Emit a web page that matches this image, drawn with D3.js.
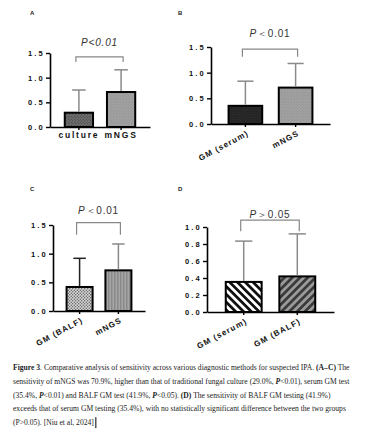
<!DOCTYPE html>
<html>
<head>
<meta charset="utf-8">
<script src="https://cdn.jsdelivr.net/npm/d3@7"></script>
<style>
  body { margin: 0; background: #fff; }
  svg { display: block; }
</style>
</head>
<body>
<svg id="chart" width="374" height="447"></svg>
<script>
// sensitivity values (from caption) and upper error bar ends
var catsA = ["culture", "mNGS"];
var meanA = [0.290, 0.709];
var sdA = [0.46, 0.45];

var catsB = ["GM (serum)", "mNGS"];
var meanB = [0.354, 0.709];
var sdB = [0.48, 0.47];

var catsC = ["GM (BALF)", "mNGS"];
var meanC = [0.419, 0.709];
var sdC = [0.50, 0.46];

var catsD = ["GM (serum)", "GM (BALF)"];
var meanD = [0.354, 0.419];
var sdD = [0.48, 0.50];

var ticks15 = [0, 0.5, 1.0, 1.5];
var ticks10 = [0, 0.2, 0.4, 0.6, 0.8, 1.0];

var captionLines = [
  [["b", "Figure 3"], ["", ". Comparative analysis of sensitivity across various diagnostic methods for suspected IPA. "], ["b", "(A\u2013C)"], ["", " The"]],
  [["", "sensitivity of mNGS was 70.9%, higher than that of traditional fungal culture (29.0%, "], ["bi", "P"], ["", "<0.01), serum GM test"]],
  [["", "(35.4%, "], ["bi", "P"], ["", "<0.01) and BALF GM test (41.9%, "], ["bi", "P"], ["", "<0.05). "], ["b", "(D)"], ["", " The sensitivity of BALF GM testing (41.9%)"]],
  [["", "exceeds that of serum GM testing (35.4%), with no statistically significant difference between the two groups"]],
  [["", "(P>0.05). [Niu et al, 2024]"]]
];

var svg = d3.select("#chart");
var defs = svg.append("defs");

// fill patterns
function stripes(id, bg, fg, w, angle) {
  var p = defs.append("pattern").attr("id", id).attr("patternUnits", "userSpaceOnUse")
    .attr("width", w).attr("height", w).attr("patternTransform", "rotate(" + angle + ")");
  p.append("rect").attr("width", w).attr("height", w).attr("fill", bg);
  p.append("rect").attr("width", w / 2).attr("height", w).attr("fill", fg);
}
function dots(id, bg, fg, w, r) {
  var p = defs.append("pattern").attr("id", id).attr("patternUnits", "userSpaceOnUse")
    .attr("width", w).attr("height", w);
  p.append("rect").attr("width", w).attr("height", w).attr("fill", bg);
  p.append("circle").attr("cx", w / 4).attr("cy", w / 4).attr("r", r).attr("fill", fg);
  p.append("circle").attr("cx", 3 * w / 4).attr("cy", 3 * w / 4).attr("r", r).attr("fill", fg);
}
dots("pCulture", "#6e6e6e", "#3a3a3a", 3, 0.6);
dots("pGray", "#a2a2a2", "#8a8a8a", 3, 0.5);
dots("pSerumB", "#1e1e1e", "#484848", 2.5, 0.5);
dots("pBalfC", "#d6d6d6", "#555", 3, 0.7);
stripes("pVert", "#a6a6a6", "#8a8a8a", 3, 0);
stripes("pSerumD", "#ffffff", "#111", 5.5, -45);
stripes("pBalfD", "#9a9a9a", "#3a3a3a", 5.5, 45);

var panels = [
  { letter: "A", lx: 30, ly: 15, cats: catsA, mean: meanA, sd: sdA, fills: ["url(#pCulture)", "url(#pGray)"],
    errCol: ["#8a8a8a", "#8a8a8a"], x0: 50, x1: 150, yZero: 127, yTop: 53, yMax: 1.5, ticks: ticks15,
    rotate: false, pText: "P<0.01", pAllItalic: true, pY: 1.72, brTop: 1.42, brBot: 1.32 },
  { letter: "B", lx: 178, ly: 15, cats: catsB, mean: meanB, sd: sdB, fills: ["url(#pSerumB)", "url(#pGray)"],
    errCol: ["#8a8a8a", "#8a8a8a"], x0: 211, x1: 330, yZero: 124, yTop: 47, yMax: 1.5, ticks: ticks15,
    rotate: true, pText: "\uFF1C0.01", pY: 1.77, brTop: 1.46, brBot: 1.31 },
  { letter: "C", lx: 30, ly: 191, cats: catsC, mean: meanC, sd: sdC, fills: ["url(#pBalfC)", "url(#pVert)"],
    errCol: ["#222", "#8a8a8a"], x0: 53, x1: 145, yZero: 311, yTop: 225, yMax: 1.5, ticks: ticks15,
    rotate: true, pText: "\uFF1C0.01", pY: 1.75, brTop: 1.54, brBot: 1.33 },
  { letter: "D", lx: 178, ly: 191, cats: catsD, mean: meanD, sd: sdD, fills: ["url(#pSerumD)", "url(#pBalfD)"],
    errCol: ["#8a8a8a", "#8a8a8a"], x0: 207, x1: 334, yZero: 312, yTop: 227, yMax: 1.0, ticks: ticks10,
    rotate: true, pText: "\uFF1E0.05", pY: 1.15, brTop: 1.08, brBot: 0.95 }
];

panels.forEach(function (pn) {
  var g = svg.append("g");

  var x = d3.scaleBand().domain(pn.cats).range([pn.x0, pn.x1]).paddingInner(0.33).paddingOuter(0.35);
  var y = d3.scaleLinear().domain([0, pn.yMax]).range([pn.yZero, pn.yTop]);

  g.append("text").attr("x", pn.lx).attr("y", pn.ly).text(pn.letter)
    .attr("font-family", "Liberation Sans, Arial").attr("font-weight", "bold").attr("font-size", 6).attr("fill", "#222");

  // bars
  g.selectAll(".bar").data(pn.cats).enter().append("rect")
    .attr("x", function (d) { return x(d); })
    .attr("y", function (d, i) { return y(pn.mean[i]); })
    .attr("width", x.bandwidth())
    .attr("height", function (d, i) { return y(0) - y(pn.mean[i]); })
    .attr("fill", function (d, i) { return pn.fills[i]; })
    .attr("stroke", "#000").attr("stroke-width", 2);

  // error bars, upper only
  var cap = x.bandwidth() * 0.24;
  pn.cats.forEach(function (c, i) {
    var cx = x(c) + x.bandwidth() / 2;
    var top = y(pn.mean[i] + pn.sd[i]);
    g.append("line").attr("x1", cx).attr("x2", cx).attr("y1", y(pn.mean[i]) - 1).attr("y2", top)
      .attr("stroke", pn.errCol[i]).attr("stroke-width", 1.5);
    g.append("line").attr("x1", cx - cap).attr("x2", cx + cap).attr("y1", top).attr("y2", top)
      .attr("stroke", pn.errCol[i]).attr("stroke-width", 1.5);
  });

  // axes
  var yAxis = g.append("g").attr("transform", "translate(" + pn.x0 + ",0)")
    .call(d3.axisLeft(y).tickValues(pn.ticks).tickFormat(d3.format(".1f")).tickSize(4).tickSizeOuter(0));
  var xAxis = g.append("g").attr("transform", "translate(0," + pn.yZero + ")")
    .call(d3.axisBottom(x).tickSize(3).tickSizeOuter(0));
  [yAxis, xAxis].forEach(function (ax) {
    ax.select(".domain").attr("stroke", "#000").attr("stroke-width", 1.6);
    ax.selectAll(".tick line").attr("stroke", "#000").attr("stroke-width", 1.4);
    ax.selectAll("text").attr("font-family", "Liberation Sans, Arial").attr("font-weight", "bold").attr("fill", "#111");
  });
  yAxis.selectAll("text").attr("font-size", 7.5).attr("letter-spacing", 2.2).attr("x", -5).attr("dy", "0.35em");
  if (pn.rotate) {
    xAxis.selectAll(".tick text").attr("font-size", 8).attr("letter-spacing", 1.1)
      .attr("text-anchor", "end").attr("y", 0).attr("dy", 0)
      .attr("transform", "translate(4,11) rotate(-28)");
  } else {
    xAxis.selectAll(".tick text").attr("font-size", 8.5).attr("letter-spacing", 1.8).attr("y", 5).attr("dy", "0.75em");
  }

  // significance bracket
  var xa = x(pn.cats[0]) + x.bandwidth() / 2 - 3;
  var xb = x(pn.cats[1]) + x.bandwidth() / 2 + 2;
  g.append("path")
    .attr("d", "M" + xa + "," + y(pn.brBot) + "V" + y(pn.brTop) + "H" + xb + "V" + y(pn.brBot))
    .attr("fill", "none").attr("stroke", "#888").attr("stroke-width", 1.2);

  var pt = g.append("text").attr("x", (xa + xb) / 2).attr("y", y(pn.pY)).attr("dy", "0.35em")
    .attr("text-anchor", "middle").attr("font-family", "Liberation Sans, Arial")
    .attr("font-size", 10).attr("fill", "#333").attr("letter-spacing", 0.8);
  if (pn.pAllItalic) {
    pt.attr("font-style", "italic").text(pn.pText);
  } else {
    pt.append("tspan").attr("font-style", "italic").text("P");
    pt.append("tspan").text(pn.pText);
  }
});

// caption
var caption = svg.append("text").attr("font-family", "Liberation Serif, Times New Roman").attr("font-size", 7.6).attr("fill", "#222");
captionLines.forEach(function (line, li) {
  line.forEach(function (seg, si) {
    var t = caption.append("tspan").text(seg[1]);
    if (si === 0) t.attr("x", 13).attr("y", 370 + li * 13.8);
    if (seg[0].indexOf("b") >= 0) t.attr("font-weight", "bold");
    if (seg[0].indexOf("i") >= 0) t.attr("font-style", "italic");
  });
});
// text cursor after the last line
var tsp = caption.selectAll("tspan").nodes();
var bb = tsp[tsp.length - 1].getBBox();
svg.append("line").attr("x1", bb.x + bb.width + 2).attr("x2", bb.x + bb.width + 2)
  .attr("y1", bb.y - 1).attr("y2", bb.y + bb.height + 1).attr("stroke", "#000").attr("stroke-width", 1);
</script>
</body>
</html>
